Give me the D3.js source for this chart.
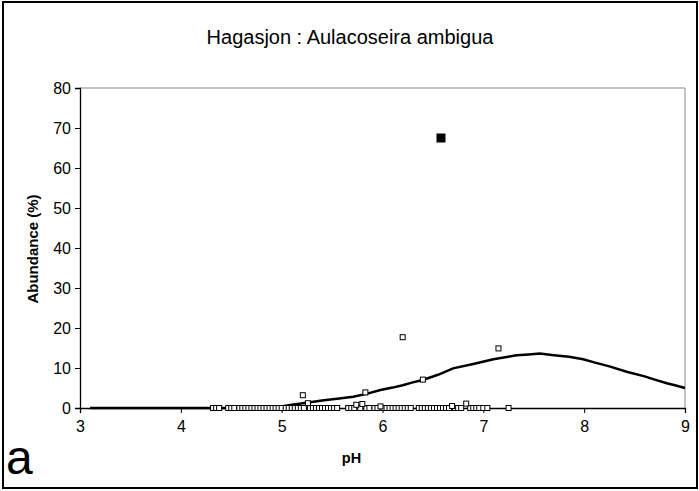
<!DOCTYPE html>
<html>
<head>
<meta charset="utf-8">
<script src="https://cdn.jsdelivr.net/npm/d3@7"></script>
<style>
  body { margin: 0; background: #fff; }
  text { font-family: "Liberation Sans", Arial, sans-serif; }
</style>
</head>
<body>
<div id="chart"></div>
<script>
// samples with zero abundance (pH)
const zeroPH = [4.32, 4.35, 4.38, 4.47, 4.50, 4.53, 4.58, 4.61, 4.64, 4.67, 4.70, 4.73,
    4.76, 4.79, 4.82, 4.85, 4.88, 4.91, 4.94, 4.97, 5.00, 5.04, 5.07, 5.10, 5.13, 5.16,
    5.19, 5.22, 5.28, 5.31, 5.34, 5.37, 5.40, 5.43, 5.46, 5.49, 5.52, 5.55, 5.66, 5.69,
    5.72, 5.78, 5.84, 5.87, 5.92, 5.95, 6.01, 6.04, 6.07, 6.10, 6.13, 6.16, 6.19,
    6.22, 6.25, 6.28, 6.36, 6.39, 6.42, 6.45, 6.48, 6.51, 6.54, 6.57, 6.60, 6.63, 6.66,
    6.72, 6.75, 6.78, 6.87, 6.90, 6.93, 6.96, 7.00, 7.04, 7.25];

// samples with abundance > 0
const otherPH = [5.21, 5.26, 5.74, 5.80, 5.83, 5.98, 6.20, 6.40, 6.69, 6.83, 7.15];
const otherAb = [3.2, 1.2, 0.8, 1.0, 3.9, 0.4, 17.7, 7.1, 0.5, 1.1, 14.9];

// the sample highlighted (filled square)
const sitePH = 6.58;
const siteAb = 67.5;

// fitted response curve
const curvePH = [3.1, 4.0, 4.6, 4.8, 4.98, 5.1, 5.25, 5.4, 5.55, 5.71, 5.85, 5.98, 6.1, 6.2,
    6.3, 6.4, 6.55, 6.7, 6.9, 7.1, 7.2, 7.33, 7.45, 7.56, 7.7, 7.85, 7.99, 8.1, 8.25, 8.43,
    8.6, 8.7, 8.82, 8.9, 9.0];
const curveAb = [0, 0, 0, 0.1, 0.3, 0.8, 1.3, 1.9, 2.3, 2.8, 3.6, 4.5, 5.1, 5.7, 6.4, 7.0,
    8.3, 9.9, 11.0, 12.2, 12.6, 13.2, 13.4, 13.6, 13.2, 12.8, 12.2, 11.4, 10.4, 9.0, 7.9,
    7.1, 6.2, 5.7, 5.0];

const xTicks = [3, 4, 5, 6, 7, 8, 9];
const yTicks = [0, 10, 20, 30, 40, 50, 60, 70, 80];

const width = 699, height = 491;
const margin = {top: 88, right: 14, bottom: 83, left: 80};

const svg = d3.select("#chart")
    .append("svg")
    .attr("width", width)
    .attr("height", height);

// outer frame
svg.append("rect")
    .attr("x", 3).attr("y", 2)
    .attr("width", 694).attr("height", 486)
    .attr("fill", "#fff")
    .attr("stroke", "#000")
    .attr("stroke-width", 2);

const x = d3.scaleLinear().domain([3, 9]).range([margin.left, width - margin.right]);
const y = d3.scaleLinear().domain([0, 80]).range([height - margin.bottom, margin.top]);

// plot area border (top / right grey)
svg.append("path")
    .attr("d", `M${x(3)},${y(80)}H${x(9)}V${y(0)}`)
    .attr("fill", "none")
    .attr("stroke", "#888")
    .attr("stroke-width", 1);

// axes
const xAxis = svg.append("g")
    .attr("transform", `translate(0,${y(0)})`)
    .call(d3.axisBottom(x).tickValues(xTicks).tickSize(5).tickPadding(8).tickFormat(d3.format("d")));
const yAxis = svg.append("g")
    .attr("transform", `translate(${x(3)},0)`)
    .call(d3.axisLeft(y).tickValues(yTicks).tickSize(5).tickPadding(4));

[xAxis, yAxis].forEach(function(ax) {
    ax.select(".domain").attr("stroke", "#000").attr("stroke-width", 1.3);
    ax.selectAll(".tick line").attr("stroke", "#000");
    ax.selectAll(".tick text")
        .attr("fill", "#000")
        .style("font-size", "16px")
        .style("font-family", "Liberation Sans, Arial, sans-serif");
});
yAxis.selectAll(".tick text").attr("dy", "0.35em");

// curve
const line = d3.line()
    .x((d, i) => x(curvePH[i]))
    .y(d => y(d));
svg.append("path")
    .datum(curveAb)
    .attr("d", line)
    .attr("fill", "none")
    .attr("stroke", "#000")
    .attr("stroke-width", 2.5);

// open square markers
const pts = zeroPH.map(p => ({ph: p, ab: 0}))
    .concat(otherPH.map((p, i) => ({ph: p, ab: otherAb[i]})));
svg.append("g")
    .selectAll("rect")
    .data(pts)
    .enter().append("rect")
    .attr("x", d => x(d.ph) - 2.5)
    .attr("y", d => y(d.ab) - 2.5)
    .attr("width", 5)
    .attr("height", 5)
    .attr("fill", "#fff")
    .attr("stroke", "#000")
    .attr("stroke-width", 1);

// the site sample
svg.append("rect")
    .attr("x", x(sitePH) - 4.5)
    .attr("y", y(siteAb) - 4.5)
    .attr("width", 9)
    .attr("height", 9)
    .attr("fill", "#000");

// titles
svg.append("text")
    .attr("x", 350).attr("y", 44)
    .attr("text-anchor", "middle")
    .style("font-size", "20px")
    .text("Hagasjon : Aulacoseira ambigua");

svg.append("text")
    .attr("x", x(6) - 31).attr("y", 463)
    .attr("text-anchor", "middle")
    .style("font-size", "14.5px")
    .style("font-weight", "bold")
    .text("pH");

svg.append("text")
    .attr("transform", "translate(38,249) rotate(-90)")
    .attr("text-anchor", "middle")
    .style("font-size", "15px")
    .style("font-weight", "bold")
    .text("Abundance (%)");

svg.append("text")
    .attr("x", 6).attr("y", 474)
    .style("font-size", "48px")
    .text("a");
</script>
</body>
</html>
